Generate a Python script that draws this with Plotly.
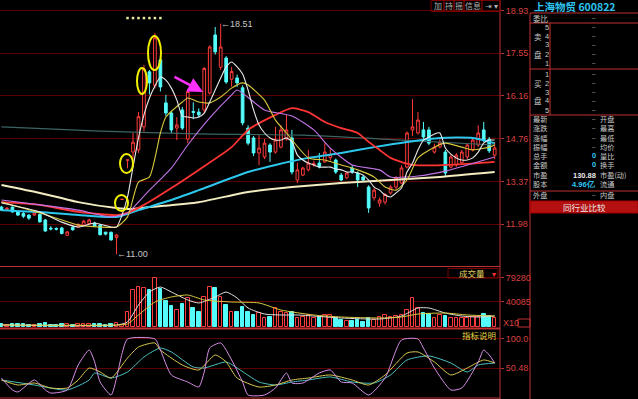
import plotly.graph_objects as go

W, H = 638, 399

# ---------------- data ----------------
days = list(range(91))
opens = [12.54,12.47,12.54,12.38,12.33,12.28,12.28,12.30,12.12,11.85,11.84,11.86,11.62,11.88,11.89,11.95,12.00,12.02,11.96,11.72,11.72,11.55,
         12.79,14.07,14.33,14.40,15.15,16.94,16.50,17.33,15.93,15.60,15.11,15.70,14.75,15.65,15.63,15.70,16.25,18.14,17.09,17.39,16.70,16.74,
         16.42,15.11,14.79,14.30,14.17,14.56,14.33,14.49,14.75,14.79,13.42,13.58,13.75,13.91,13.97,14.01,14.15,14.07,13.58,13.49,13.81,13.65,
         13.52,13.19,12.84,12.67,12.70,13.00,13.19,13.32,13.84,15.05,14.95,15.05,15.05,14.33,14.50,14.33,13.84,13.91,13.98,14.17,14.40,14.56,
         15.05,14.75,14.23]
highs = [12.58,12.54,12.56,12.40,12.38,12.30,12.38,12.33,12.15,11.92,11.88,11.90,11.76,11.92,12.00,12.12,12.16,12.06,11.98,11.74,11.74,11.66,
         12.79,14.07,14.95,15.63,17.16,17.00,18.20,17.45,16.19,15.66,15.47,15.80,16.38,15.95,15.75,17.10,17.80,18.40,18.51,17.45,17.10,16.85,
         16.50,15.20,14.85,14.88,14.75,14.62,15.15,15.21,15.55,15.05,13.98,13.85,14.40,14.05,14.30,14.62,14.45,14.12,13.65,13.70,13.90,13.70,
         13.58,13.25,13.15,12.85,13.00,13.25,13.55,13.90,15.00,16.05,15.63,15.31,15.15,14.60,14.75,14.40,14.25,14.30,14.40,14.62,14.80,15.20,
         15.31,14.82,14.65]
lows = [12.42,12.44,12.36,12.25,12.18,12.12,12.25,12.03,11.74,11.78,11.78,11.65,11.60,11.77,11.87,11.93,11.98,11.90,11.62,11.62,11.45,11.00,
        12.79,13.80,14.10,14.30,15.00,16.20,16.40,16.30,15.50,14.95,14.72,15.05,14.62,15.40,15.45,15.60,16.20,17.50,17.00,16.55,16.45,16.45,
        15.20,14.55,14.20,13.91,14.10,14.01,14.28,14.45,14.70,13.60,13.32,13.55,13.70,13.85,13.80,13.98,14.05,13.62,13.38,13.45,13.62,13.19,
        13.38,12.35,12.75,12.55,12.62,12.95,13.10,13.28,13.80,14.85,14.90,14.75,14.55,14.28,14.45,13.52,13.80,13.85,13.95,14.10,14.35,14.50,
        14.65,14.30,14.10]
closes = [12.44,12.50,12.38,12.28,12.24,12.18,12.35,12.06,11.76,11.83,11.82,11.68,11.73,11.80,11.98,12.08,12.12,11.92,11.64,11.66,11.47,11.63,
          12.79,14.07,14.65,15.48,17.03,16.58,18.05,16.45,15.60,15.05,15.21,15.11,16.30,15.62,15.54,17.05,17.75,17.59,17.75,16.61,16.95,16.58,
          15.28,14.62,14.30,14.46,14.62,14.33,14.72,15.05,15.05,13.68,13.75,13.81,13.97,13.95,13.85,14.33,14.25,13.68,13.42,13.65,13.68,13.42,
          13.42,12.51,13.09,12.77,12.95,13.19,13.49,13.81,14.95,15.15,15.37,14.82,14.62,14.49,14.65,13.65,14.17,14.23,14.33,14.56,14.72,14.95,
          14.72,14.37,14.46]
volumes = [4200,3000,4500,3800,3500,3200,3000,4000,5200,3200,3000,3600,3300,3100,3500,4200,4000,3300,4600,3000,4800,5600,1800,
           23700,59600,64500,62900,59600,79200,61200,41600,33500,26900,36700,46500,30200,23700,48200,64500,62900,48200,35100,23700,
           23700,31800,23700,18800,22000,13900,15500,30200,23700,22000,23700,13900,15500,18800,13900,15500,18800,18800,13900,10600,
           9000,9000,10600,7300,13900,10600,15500,18800,15500,17100,18800,26900,46500,30200,22000,20400,13900,18800,17100,13900,
           13900,13900,13900,15500,16000,20400,17100,13900]

# moving averages (day index, value)
ma5_days = [0,7,11,14,17,20,21,22,23,24,25,26,27,28,29,30,31,32,33,34,35,36,37,38,39,40,41,42,43,44,45,46,47,48,49,50,51,52,53,54,55,
            56,57,58,59,60,61,62,63,64,65,66,67,68,69,70,71,72,73,74,75,76,77,78,79,80,81,82,83,84,85,86,87,88,89,90]
ma5_vals = [12.67,12.38,12.05,11.89,12.02,11.89,11.89,12.28,12.87,13.84,14.79,15.54,16.09,16.48,16.77,16.67,16.41,16.02,15.50,15.47,
            15.44,15.47,15.60,15.96,16.35,16.74,17.10,17.26,17.10,16.87,16.35,15.70,15.21,14.95,14.79,14.72,14.72,14.79,14.66,14.23,14.07,
            13.97,13.91,13.84,13.84,13.84,13.78,13.75,13.68,13.68,13.65,13.58,13.42,13.19,13.09,12.93,12.87,13.00,13.16,13.68,13.97,14.40,
            14.72,14.82,14.92,14.95,14.46,14.26,14.14,14.07,14.07,14.14,14.33,14.62,14.72,14.72]
ma10_days = [0,7,11,14,18,21,23,25,27,29,30,33,34,36,38,40,42,44,45,48,50,52,56,59,62,65,68,70,72,74,76,79,81,84,86,89,90]
ma10_vals = [12.70,12.35,12.12,11.96,11.89,11.89,12.22,13.35,13.52,14.95,15.47,15.96,16.09,15.96,15.93,16.12,16.41,16.58,16.51,16.02,
             15.37,14.95,14.14,14.07,13.91,13.75,13.52,13.19,13.09,13.42,14.14,14.49,14.62,14.49,14.40,14.49,14.56]
ma20_days = [0,7,14,20,23,27,31,34,38,42,43,48,53,57,60,64,69,71,76,81,85,90]
ma20_vals = [12.77,12.61,12.44,12.22,12.35,13.09,13.81,14.56,15.44,16.19,16.35,15.70,15.50,15.05,14.46,13.91,13.75,13.52,13.55,13.71,
             13.91,14.17]
ma30_days = [0,7,14,21,23,26,31,36,42,45,50,53,56,59,62,65,67,69,71,75,81,87,90]
ma30_vals = [12.70,12.61,12.38,12.28,12.35,12.61,13.16,13.75,14.49,15.05,15.54,15.76,15.63,15.31,15.11,14.95,14.66,14.40,14.14,13.91,
             13.91,13.97,14.01]
ma60_days = [0,7,14,21,25,31,36,45,50,56,62,68,74,80,86,90]
ma60_vals = [12.44,12.38,12.28,12.22,12.44,12.77,13.09,13.68,13.91,14.14,14.30,14.49,14.66,14.79,14.79,14.62]
ma120_days = [0,7,14,21,24,27,36,45,53,62,71,80,90]
ma120_vals = [13.26,13.00,12.70,12.51,12.48,12.54,12.70,13.03,13.19,13.32,13.42,13.52,13.68]
ma250_days = [0,18,36,55,73,90]
ma250_vals = [15.15,15.01,14.92,14.88,14.72,14.56]

vma5_days = [0,21,23,25,27,29,31,34,36,39,41,43,45,48,51,54,57,62,69,73,76,78,81,84,87,90]
vma5_vals = [2450,2450,7350,35100,56300,64500,56300,43300,38400,48200,56300,46500,30200,20400,18800,18800,17100,13900,12200,17100,
             30200,30200,22000,17100,15500,17100]
vma10_days = [0,21,23,25,28,31,34,37,42,47,51,57,62,69,73,76,81,85,90]
vma10_vals = [2450,2450,4100,18800,40000,48200,51400,43300,40000,38400,26900,18800,15500,13900,15500,20400,22000,18800,17100]

j_days = [0,2,3,6,8,9,12,14,16,17,18,20,21,22,23,28,29,31,34,36,37,38,40,42,44,45,48,50,52,53,55,58,60,62,64,67,70,73,76,77,79,
          82,84,87,88,89,90]
j_vals = [33.4,13.0,9.6,30.0,13.0,7.8,13.0,55.6,81.2,60.8,26.6,4.4,33.4,75.0,100.0,100.0,81.2,38.6,26.6,18.1,43.7,84.6,93.2,64.2,
          26.6,4.4,4.4,16.4,42.0,24.9,24.9,42.0,47.1,26.6,24.9,4.4,33.4,98.3,100.0,84.6,50.5,13.0,16.4,60.8,81.2,72.7,59.0]
k_days = [0,3,6,9,12,14,16,18,20,23,25,28,29,33,36,39,41,43,47,50,53,56,60,64,67,70,74,76,79,82,85,88,90]
k_vals = [30.0,21.5,24.9,16.4,16.4,30.0,50.5,43.7,33.4,67.6,86.3,93.2,81.2,55.6,47.1,72.7,60.8,33.4,18.1,21.5,30.0,33.4,38.6,30.0,
          21.5,38.6,76.1,77.8,60.8,38.6,50.5,64.2,59.0]
d_days = [0,6,12,16,17,20,23,26,29,31,35,37,41,43,47,50,53,56,60,64,68,71,74,78,82,85,87,90]
d_vals = [30.0,21.5,13.0,30.0,42.0,33.4,43.7,69.3,84.6,77.8,52.2,50.5,60.8,50.5,26.6,21.5,26.6,30.0,35.2,26.6,24.9,38.6,64.2,71.0,
          59.0,43.7,55.6,59.0]

signal_days = [23,24,25,26,27,28,29]
signal_level = 18.69

price_ticks = [18.93, 17.55, 16.16, 14.76, 13.37, 11.98]
vol_ticks = [79280, 40085]
kdj_ticks = [100.0, 50.48]

# ---------------- styling ----------------
RED = "#ff3c3c"
CYAN = "#54fcfc"
GRID = "#5a0000"
AXRED = "#c03030"
LBL = "#d84040"
NUMF = "Liberation Sans"
CJK = "Noto Sans CJK SC"

def PX(x):
    return x / W

def PY(y):
    return 1 - y / H

fig = go.Figure()

fig.add_trace(go.Candlestick(
    x=days, open=opens, high=highs, low=lows, close=closes,
    increasing=dict(line=dict(color=RED, width=1), fillcolor="#000000"),
    decreasing=dict(line=dict(color=CYAN, width=1), fillcolor=CYAN),
    whiskerwidth=0, xaxis="x", yaxis="y", hoverinfo="skip"))

def ma(xs, ys, color, width, xa="x", ya="y"):
    fig.add_trace(go.Scatter(x=xs, y=ys, mode="lines", line=dict(color=color, width=width, shape="spline", smoothing=0.6),
                             xaxis=xa, yaxis=ya, hoverinfo="skip"))

ma(ma250_days, ma250_vals, "#3c6464", 1.2)
ma(ma120_days, ma120_vals, "#f2ecc0", 2)
ma(ma60_days, ma60_vals, "#2cc8ee", 2)
ma(ma30_days, ma30_vals, "#ff3434", 1.8)
ma(ma20_days, ma20_vals, "#c274e6", 1.1)
ma(ma10_days, ma10_vals, "#d8c840", 1.1)
ma(ma5_days, ma5_vals, "#e8e8e8", 1.1)

fig.add_trace(go.Scatter(x=signal_days, y=[signal_level] * len(signal_days), mode="markers",
                         marker=dict(color="#e8e8a0", size=2.5, symbol="square"), hoverinfo="skip"))

up = [c >= o for o, c in zip(opens, closes)]
fig.add_trace(go.Bar(x=days, y=volumes, xaxis="x2", yaxis="y2", width=0.66,
                     marker=dict(color=["#000000" if u else CYAN for u in up],
                                 line=dict(color=[RED if u else CYAN for u in up], width=1)),
                     hoverinfo="skip"))
ma(vma5_days, vma5_vals, "#e0e0e0", 1, "x2", "y2")
ma(vma10_days, vma10_vals, "#d8c840", 1, "x2", "y2")

ma(d_days, d_vals, "#4cc0c0", 1, "x3", "y3")
ma(k_days, k_vals, "#d8c850", 1, "x3", "y3")
ma(j_days, j_vals, "#d890e8", 1, "x3", "y3")

xr = [-0.27, 90.97]
xdom = [0, 500 / W]
common_x = dict(range=xr, domain=xdom, showgrid=False, zeroline=False, showticklabels=False, ticks="", showline=False,
                fixedrange=True)
tickfont = dict(family=NUMF, size=9, color=LBL)
common_y = dict(side="right", showgrid=True, gridcolor=GRID, gridwidth=1, zeroline=False, ticks="outside", ticklen=3,
                tickcolor=AXRED, tickfont=tickfont, showline=False, fixedrange=True)

fig.update_layout(
    width=W, height=H, margin=dict(l=0, r=0, t=0, b=0),
    paper_bgcolor="#000000", plot_bgcolor="#000000", showlegend=False, hovermode=False, bargap=0,
    xaxis=dict(**common_x, anchor="y", rangeslider=dict(visible=False)),
    xaxis2=dict(**common_x, anchor="y2"),
    xaxis3=dict(**common_x, anchor="y3"),
    yaxis=dict(**common_y, domain=[PY(266), 1], range=[10.622, 19.278], tickvals=price_ticks,
               ticktext=["%.2f" % v for v in price_ticks], anchor="x"),
    yaxis2=dict(**common_y, domain=[PY(330), PY(268)], range=[-5716, 95530], tickvals=vol_ticks,
                ticktext=[str(v) for v in vol_ticks], anchor="x2"),
    yaxis3=dict(**common_y, domain=[0, PY(333)], range=[-2.39, 110.2], tickvals=kdj_ticks,
                ticktext=["%.1f" % kdj_ticks[0], "%.2f" % kdj_ticks[1]], anchor="x3"),
)

shapes = []
def line(x0, y0, x1, y1, color=AXRED, width=1):
    shapes.append(dict(type="line", xref="paper", yref="paper", x0=PX(x0), y0=PY(y0), x1=PX(x1), y1=PY(y1),
                       line=dict(color=color, width=width)))

def rect(x0, y0, x1, y1, color=AXRED, fill=None, width=1):
    shapes.append(dict(type="rect", xref="paper", yref="paper", x0=PX(x0), y0=PY(y0), x1=PX(x1), y1=PY(y1),
                       line=dict(color=color, width=width), fillcolor=fill if fill else "rgba(0,0,0,0)"))

# panel frames
line(500, 0, 500, 399)
line(530, 13, 530, 399)
line(0, 266.5, 500, 266.5)
line(0, 328.5, 500, 328.5, width=2)
line(0, 398, 500, 398)
# info panel rules
line(530, 13, 638, 13)
line(530, 23, 638, 23)
line(530, 69, 638, 69)
line(530, 115, 638, 115)
line(550, 23, 550, 115)
line(530, 191, 638, 191)
rect(530, 201, 638, 213, color="#a00000", fill="#b41010")
# toolbar buttons
for a, b in [(431, 444), (444, 454), (454, 464), (464, 482), (482, 500)]:
    rect(a, 0.5, b, 11.5, color="#7a0000")
# volume selector box & small box
rect(448, 268.5, 498, 278, color="#7a0000")
rect(518, 319, 530, 327, color=AXRED)

# yellow hand-drawn ovals (pixel positions)
for (x0, y0, x1, y1) in [(115, 195, 128, 211), (120, 154, 133, 173), (137, 68, 147, 94), (148, 36, 161, 70)]:
    shapes.append(dict(type="circle", xref="paper", yref="paper", x0=PX(x0), y0=PY(y0), x1=PX(x1), y1=PY(y1),
                       line=dict(color="#f0f000", width=2)))
fig.update_layout(shapes=shapes)

ann = []
def text(x, y, s, color="#c8c8c8", size=7.2, xanchor="left", family=CJK, bold=False):
    ann.append(dict(xref="paper", yref="paper", x=PX(x), y=PY(y), text=("<b>%s</b>" % s) if bold else s,
                    showarrow=False, xanchor=xanchor, yanchor="middle", borderpad=0,
                    font=dict(family=family, size=size, color=color)))

# toolbar
for cx, s in [(437.5, "加"), (449, "持"), (459, "摇"), (473, "信息"), (488, "⇥"), (496, "▾")]:
    text(cx, 5.5, s, color="#b0b0b0", size=8, xanchor="center")

# title
text(533, 6.5, "上海物贸 600822", color="#2ec4f0", size=10.5, bold=True)

# quote table
text(532, 18, "委比", size=7.5)
text(597, 18, "–", xanchor="right", size=6, family=NUMF)
for k, yy in zip(["5", "4", "3", "2", "1"], [27, 36, 45, 54, 63]):
    text(544, yy, k, family=NUMF, size=7.5)
    text(597, yy, "–", xanchor="right", size=6, family=NUMF)
text(533, 36, "卖", size=7.5)
text(533, 54, "盘", size=7.5)
for k, yy in zip(["1", "2", "3", "4", "5"], [74, 83, 92, 101, 110]):
    text(544, yy, k, family=NUMF, size=7.5)
    text(597, yy, "–", xanchor="right", size=6, family=NUMF)
text(533, 83, "买", size=7.5)
text(533, 101, "盘", size=7.5)

rows = [("最新", "–", "#c8c8c8", "开盘"), ("涨跌", "–", "#c8c8c8", "最高"), ("涨幅", "–", "#c8c8c8", "最低"),
        ("振幅", "–", "#c8c8c8", "均价"), ("总手", "0", "#2ec4f0", "量比"), ("金额", "0", "#2ec4f0", "换手"),
        ("市盈", "130.88", "#e8e8e8", "市盈(动)"), ("股本", "4.96亿", "#2ec4f0", "流通"), ("外盘", "–", "#c8c8c8", "内盘")]
for (l, v, vc, r), yy in zip(rows, [118.8, 128.5, 137.5, 146.5, 155.5, 165, 175, 184.5, 194.5]):
    text(532, yy, l)
    text(597, yy, v, color=vc, xanchor="right", family=NUMF, bold=(v != "–"), size=6 if v == "–" else 7.5)
    text(599, yy, r)
text(584, 207, "同行业比较", color="#e8e8e8", size=8.5, xanchor="center")

# volume / indicator labels
text(472, 273, "成交量", color="#e0d060", size=8.5, xanchor="center")
text(494, 273, "▾", color="#ff3030", size=8, xanchor="center")
text(502, 323, "X10", color=LBL, family=NUMF, size=9)
text(497, 334.5, "指标说明", color="#e0d040", size=8.5, xanchor="right")

# data-anchored labels
ann.append(dict(x=40, y=18.51, xref="x", yref="y", text="←18.51", showarrow=False, xanchor="left", xshift=-2,
                font=dict(family=NUMF, size=9, color="#c8c8c8")))
ann.append(dict(x=21, y=11.00, xref="x", yref="y", text="←11.00", showarrow=False, xanchor="left", xshift=-2,
                font=dict(family=NUMF, size=9, color="#c8c8c8")))
# magenta arrow
ann.append(dict(xref="paper", yref="paper", x=PX(203), y=PY(92), ax=-30, ay=-16, axref="pixel", ayref="pixel",
                showarrow=True, arrowhead=2, arrowsize=1.2, arrowwidth=2.5, arrowcolor="#ff30ff", text=""))
fig.update_layout(annotations=ann)

fig.write_html("out.html")
